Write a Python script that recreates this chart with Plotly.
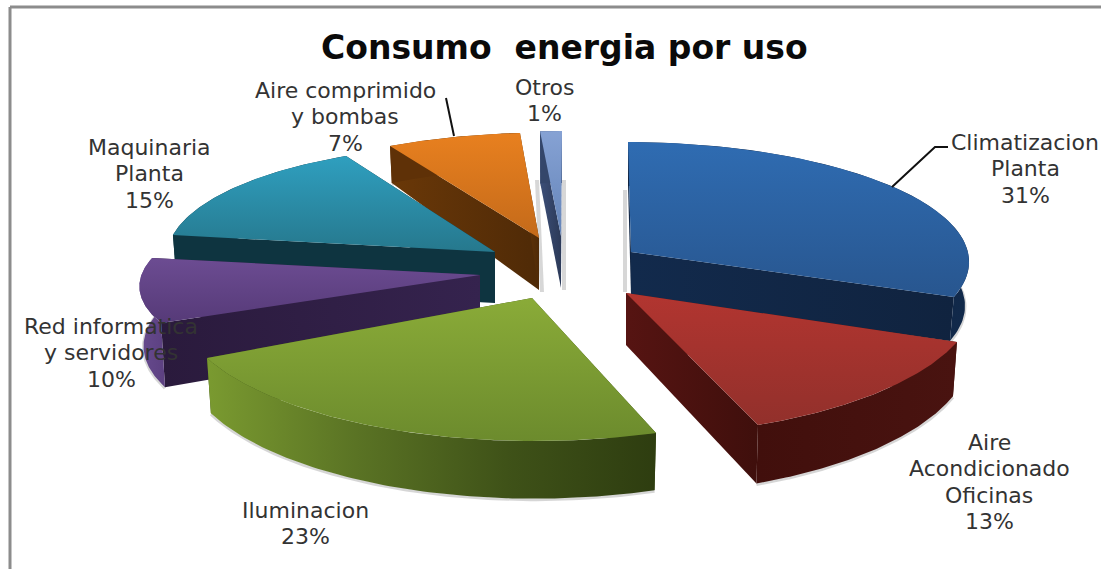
import numpy as np
import plotly.graph_objects as go

# Energy use shares, clockwise from twelve o'clock
categories = ["Climatizacion Planta", "Aire Acondicionado Oficinas", "Iluminacion",
              "Red informatica y servidores", "Maquinaria Planta",
              "Aire comprimido y bombas", "Otros"]
values = [31, 13, 23, 10, 15, 7, 1]
label_lines = [["Climatizacion", "Planta"], ["Aire", "Acondicionado", "Oficinas"],
               ["Iluminacion"], ["Red informatica", "y servidores"],
               ["Maquinaria", "Planta"], ["Aire comprimido", "y bombas"], ["Otros"]]
title_text = "Consumo  energia por uso"

# Exploded-wedge projection: apex, radii, skew and extrusion of each wedge
wedges = [
    dict(cx=631, cy=252, rx=337.0, ry=117.7, lean=-3.2, shear=0.5, d0=44, dk=0.0),
    dict(cx=626, cy=293, rx=348.9, ry=133.3, lean=5.4, shear=-1.5, d0=52, dk=0.12),
    dict(cx=532, cy=298, rx=350.6, ry=132.9, lean=14.1, shear=6.9, d0=53, dk=0.08),
    dict(cx=480, cy=275, rx=336.8, ry=103.8, lean=26.9, shear=4.2, d0=58, dk=0.2),
    dict(cx=495, cy=252, rx=327.4, ry=114.7, lean=-0.4, shear=2.8, d0=51, dk=0.0),
    dict(cx=539, cy=238, rx=328.8, ry=112.8, lean=0.3, shear=-2.4, d0=52, dk=0.46),
    dict(cx=561, cy=236, rx=375.0, ry=112.3, lean=1.1, shear=0.0, d0=52, dk=0.0),
]
# Top-face gradient, radial wall colour and rim wall gradient of each wedge
paints = [
    dict(top=["#28568f", "#2f6cb2"], side=["#122a4c", "#10233f"], rim=["#10233f", "#11294a"]),
    dict(top=["#92302b", "#b23530"], side=["#561412", "#3f0f0c"], rim=["#410f0c", "#491310"]),
    dict(top=["#6c8b2d", "#8aab38"], side=["#3a4d14", "#3a4d14"],
         rim=["#7a9a30", "#5a7324", "#3f5218", "#2e3d10"]),
    dict(top=["#563a78", "#6c4c92"], side=["#2a1a3c", "#35234e"], rim=["#674b8e", "#5c4081"]),
    dict(top=["#26788d", "#2f9fbf"], side=["#0e3440", "#0e3440"], rim=["#0e3440", "#0e3440"]),
    dict(top=["#c46a1a", "#e8801f"], side=["#6a3808", "#4f2a07"], rim=["#5f3107", "#5f3107"]),
    dict(top=["#6484b8", "#86a2d4"], side=["#3c4f78", "#2c3a58"], rim=["#34466a", "#34466a"]),
]
label_pos = [(1025, 142), (989, 442), (305, 510), (111, 326), (149, 147), (345, 90), (544, 87)]
LINE_PITCH = 26.5
PERSPECTIVE = 0.07
draw_order = [6, 5, 0, 4, 3, 2, 1]

fractions = np.array(values, dtype=float) / sum(values)
ends = np.cumsum(fractions) * 2 * np.pi
starts = ends - fractions * 2 * np.pi


def project(w, theta, lower=False):
    """Map disc angles to page coordinates, on the top or the extruded ring."""
    theta = np.asarray(theta, dtype=float)
    u, v = np.sin(theta), np.cos(theta)
    s = 1 / (1 + PERSPECTIVE * v)
    dx = w["rx"] * u * s + w["lean"] * v * s
    dy = w["shear"] * u * s - w["ry"] * v * s
    if lower:
        return w["cx"] + dx * 0.988, w["cy"] + dy + w["d0"] / (1 + w["dk"] * v)
    return w["cx"] + dx, w["cy"] + dy


def scale(colours):
    return [[i / (len(colours) - 1), c] for i, c in enumerate(colours)]


def polygon(xs, ys, colours, direction):
    return go.Scatter(x=np.r_[xs, xs[0]], y=np.r_[ys, ys[0]], mode="lines",
                      line=dict(width=0), fill="toself", hoverinfo="skip",
                      fillgradient=dict(type=direction, colorscale=scale(colours)))


fig = go.Figure()

for i in draw_order:
    w, p = wedges[i], paints[i]
    arc = np.linspace(starts[i], ends[i], 90)
    tx, ty = project(w, arc)
    bx, by = project(w, arc, lower=True)
    ax_low, ay_low = w["cx"], w["cy"] + w["d0"]

    # soft contact shadow beneath the rim
    fig.add_trace(go.Scatter(x=bx, y=by + 1, mode="lines", hoverinfo="skip",
                             line=dict(color="rgba(70,70,70,0.22)", width=3)))
    # radial walls
    for t in (starts[i], ends[i]):
        rx_t, ry_t = project(w, [t])
        rx_b, ry_b = project(w, [t], lower=True)
        fig.add_trace(polygon(np.array([w["cx"], rx_t[0], rx_b[0], ax_low]),
                              np.array([w["cy"], ry_t[0], ry_b[0], ay_low]),
                              p["side"], "horizontal"))
    # outer rim wall
    fig.add_trace(polygon(np.r_[tx, bx[::-1]], np.r_[ty, by[::-1]], p["rim"], "horizontal"))
    # top face
    fig.add_trace(polygon(np.r_[w["cx"], tx], np.r_[w["cy"], ty], p["top"], "vertical"))

# leader lines
for lx, ly in [([446, 454], [98, 136]), ([948, 935, 892], [147, 147, 187])]:
    fig.add_trace(go.Scatter(x=lx, y=ly, mode="lines", hoverinfo="skip",
                             line=dict(color="#111111", width=2)))

annotations = [dict(x=564, y=47, text=f"<b>{title_text}</b>", showarrow=False,
                    font=dict(family="DejaVu Sans", size=33, color="#0a0a0a"),
                    xanchor="center", yanchor="middle")]
for lines, (lx, ly), val in zip(label_lines, label_pos, values):
    for n, row in enumerate(lines + [f"{val}%"]):
        annotations.append(dict(x=lx, y=ly + n * LINE_PITCH, text=row, showarrow=False,
                                font=dict(family="DejaVu Sans", size=22, color="#333333"),
                                xanchor="center", yanchor="middle"))

frame = dict(type="line", line=dict(color="#8c8c8c", width=3), layer="below")
soft = dict(type="line", layer="below", line=dict(color="rgba(110,110,110,0.28)", width=4))
fig.update_layout(
    width=1101, height=569, margin=dict(l=0, r=0, t=0, b=0),
    paper_bgcolor="white", plot_bgcolor="white", showlegend=False,
    xaxis=dict(range=[0, 1101], visible=False, fixedrange=True),
    yaxis=dict(range=[569, 0], visible=False, fixedrange=True),
    annotations=annotations,
    shapes=[dict(frame, x0=10, x1=10, y0=7, y1=569),
            dict(frame, x0=10, x1=1101, y0=7, y1=7),
            dict(soft, x0=625, x1=625, y0=190, y1=292),
            dict(soft, x0=564, x1=564, y0=180, y1=290),
            dict(soft, x0=537, x1=542, y0=180, y1=292)],
)
fig.write_html("out.html", config=dict(displayModeBar=False))
